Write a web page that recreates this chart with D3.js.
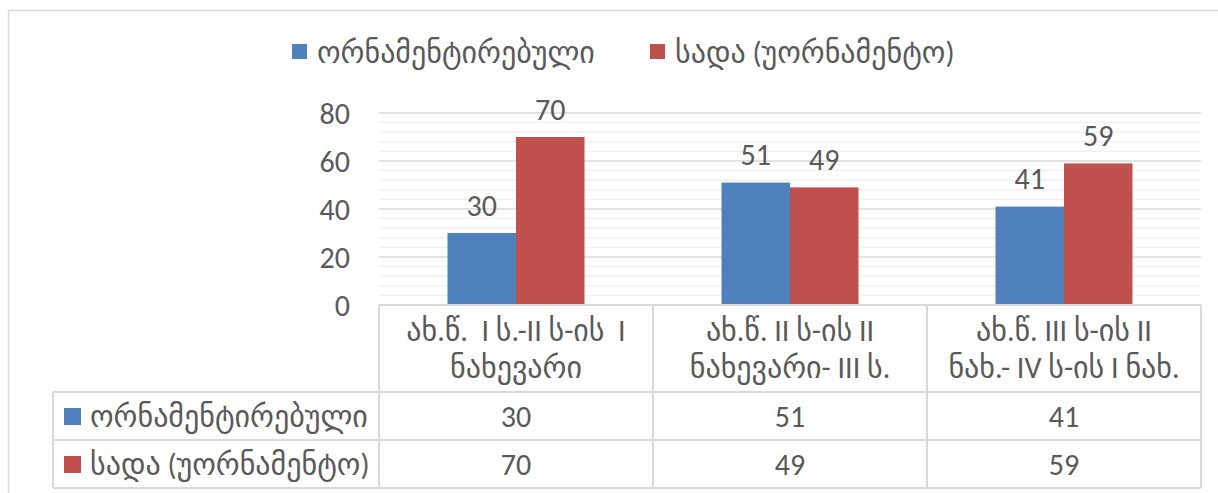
<!DOCTYPE html>
<html>
<head>
<meta charset="utf-8">
<script src="https://cdn.jsdelivr.net/npm/d3@7"></script>
<style>
    body { margin: 0; background: #fff; }
    svg text { font-family: Calibri, Carlito, "Open Sans", "DejaVu Sans", sans-serif; fill: #595959; white-space: pre; }
</style>
</head>
<body>
<svg id="chart" width="1218" height="493"></svg>
<script>
/**
 * Data.
 */
const categories = [
    ['ახ.წ.  I ს.-II ს-ის  I', 'ნახევარი'],
    ['ახ.წ. II ს-ის II', 'ნახევარი- III ს.'],
    ['ახ.წ. III ს-ის II', 'ნახ.- IV ს-ის I ნახ.']
];
const seriesNames = ['ორნამენტირებული', 'სადა (უორნამენტო)'];
const ornamented = [30, 51, 41];
const plain = [70, 49, 59];
const yTicks = [0, 20, 40, 60, 80];

/**
 * Visual configs.
 */
const colors = ['#4f81bd', '#c0504d'],
    gridColor = '#d9d9d9',
    minorColor = '#f0f0f0',
    fontSize = 30;

const svg = d3.select('#chart');
const values = [ornamented, plain];
const catIdx = d3.range(categories.length);

const xScale = d3.scaleBand().domain(catIdx).range([379, 1201]).padding(0);
const xInner = d3.scaleBand().domain([0, 1]).range([0, xScale.bandwidth()]).paddingInner(0).paddingOuter(1);
const yScale = d3.scaleLinear().domain([0, 80]).range([305, 113]);

// Outer chart border
svg.append('rect')
    .attr('x', 8.5).attr('y', 10.5)
    .attr('width', 1240).attr('height', 500)
    .attr('fill', 'none').attr('stroke', gridColor).attr('stroke-width', 1.5);

// Minor gridlines
svg.append('g').selectAll('line')
    .data(d3.range(0, 81, 4).filter(v => v % 20 !== 0))
    .join('line')
    .attr('x1', 379).attr('x2', 1201)
    .attr('y1', d => yScale(d)).attr('y2', d => yScale(d))
    .attr('stroke', minorColor).attr('stroke-width', 1.5);

// Major gridlines
svg.append('g').selectAll('line')
    .data(yTicks.filter(v => v > 0))
    .join('line')
    .attr('x1', 379).attr('x2', 1201)
    .attr('y1', d => yScale(d)).attr('y2', d => yScale(d))
    .attr('stroke', gridColor).attr('stroke-width', 1.5);

// Y axis labels
const yAxis = d3.axisLeft(yScale).tickValues(yTicks).tickSize(0).tickPadding(0);
const yAxisG = svg.append('g').attr('transform', 'translate(350,0)').call(yAxis);
yAxisG.select('.domain').remove();
yAxisG.selectAll('text')
    .attr('font-size', fontSize)
    .style('font-family', null)
    .attr('fill', '#595959')
    .attr('dy', '0.35em');

// Bars
const groups = svg.append('g').selectAll('g')
    .data(catIdx)
    .join('g')
    .attr('transform', i => 'translate(' + xScale(i) + ',0)');

groups.selectAll('rect')
    .data(i => values.map((s, k) => ({ k, v: s[i] })))
    .join('rect')
    .attr('x', d => xInner(d.k))
    .attr('width', xInner.bandwidth())
    .attr('y', d => yScale(d.v))
    .attr('height', d => yScale(0) - yScale(d.v))
    .attr('fill', d => colors[d.k]);

groups.selectAll('text.label')
    .data(i => values.map((s, k) => ({ k, v: s[i] })))
    .join('text')
    .attr('class', 'label')
    .attr('x', d => xInner(d.k) + xInner.bandwidth() / 2)
    .attr('y', d => yScale(d.v) - 28)
    .attr('dy', '0.35em')
    .attr('text-anchor', 'middle')
    .attr('font-size', fontSize)
    .text(d => d.v);

// Legend at top
const legendItems = [{ x: 292, name: seriesNames[0] }, { x: 650, name: seriesNames[1] }];
const legend = svg.append('g').selectAll('g')
    .data(legendItems)
    .join('g')
    .attr('transform', d => 'translate(' + d.x + ',0)');
legend.append('rect')
    .attr('x', 0).attr('y', 44).attr('width', 15).attr('height', 15)
    .attr('fill', (d, i) => colors[i]);
legend.append('text')
    .attr('x', 25).attr('y', 52).attr('dy', '0.35em')
    .attr('font-size', fontSize)
    .text(d => d.name);

// Data table
const tableTop = 305, headerBottom = 392, rowH = 48, legendLeft = 53, tableLeft = 379, tableRight = 1201;
const table = svg.append('g')
    .attr('stroke', gridColor).attr('stroke-width', 2).attr('fill', 'none');

// Horizontal lines
table.append('line').attr('x1', tableLeft).attr('x2', tableRight).attr('y1', tableTop).attr('y2', tableTop);
[0, 1, 2].forEach(r => {
    const y = headerBottom + r * rowH;
    table.append('line').attr('x1', legendLeft).attr('x2', tableRight).attr('y1', y).attr('y2', y);
});
// Vertical lines
table.append('line').attr('x1', legendLeft).attr('x2', legendLeft).attr('y1', headerBottom).attr('y2', headerBottom + 2 * rowH);
catIdx.concat([categories.length]).forEach(i => {
    const x = i < categories.length ? xScale(i) : tableRight;
    table.append('line').attr('x1', x).attr('x2', x).attr('y1', tableTop).attr('y2', headerBottom + 2 * rowH);
});

// Category header text
const header = svg.append('g').selectAll('text')
    .data(catIdx)
    .join('text')
    .attr('text-anchor', 'middle')
    .attr('font-size', fontSize)
    .attr('x', i => xScale(i) + xScale.bandwidth() / 2);
header.selectAll('tspan')
    .data(i => categories[i])
    .join('tspan')
    .attr('x', function() { return d3.select(this.parentNode).attr('x'); })
    .attr('y', (d, j) => 330 + j * 37)
    .attr('dy', '0.35em')
    .text(d => d);

// Table rows
seriesNames.forEach((name, k) => {
    const cy = headerBottom + k * rowH + rowH / 2;
    svg.append('rect')
        .attr('x', 64).attr('y', cy - 8).attr('width', 17).attr('height', 17)
        .attr('fill', colors[k]);
    svg.append('text')
        .attr('x', 90).attr('y', cy).attr('dy', '0.35em')
        .attr('font-size', fontSize)
        .text(name);
    svg.append('g').selectAll('text')
        .data(catIdx)
        .join('text')
        .attr('x', i => xScale(i) + xScale.bandwidth() / 2)
        .attr('y', cy).attr('dy', '0.35em')
        .attr('text-anchor', 'middle')
        .attr('font-size', fontSize)
        .text(i => values[k][i]);
});
</script>
</body>
</html>
